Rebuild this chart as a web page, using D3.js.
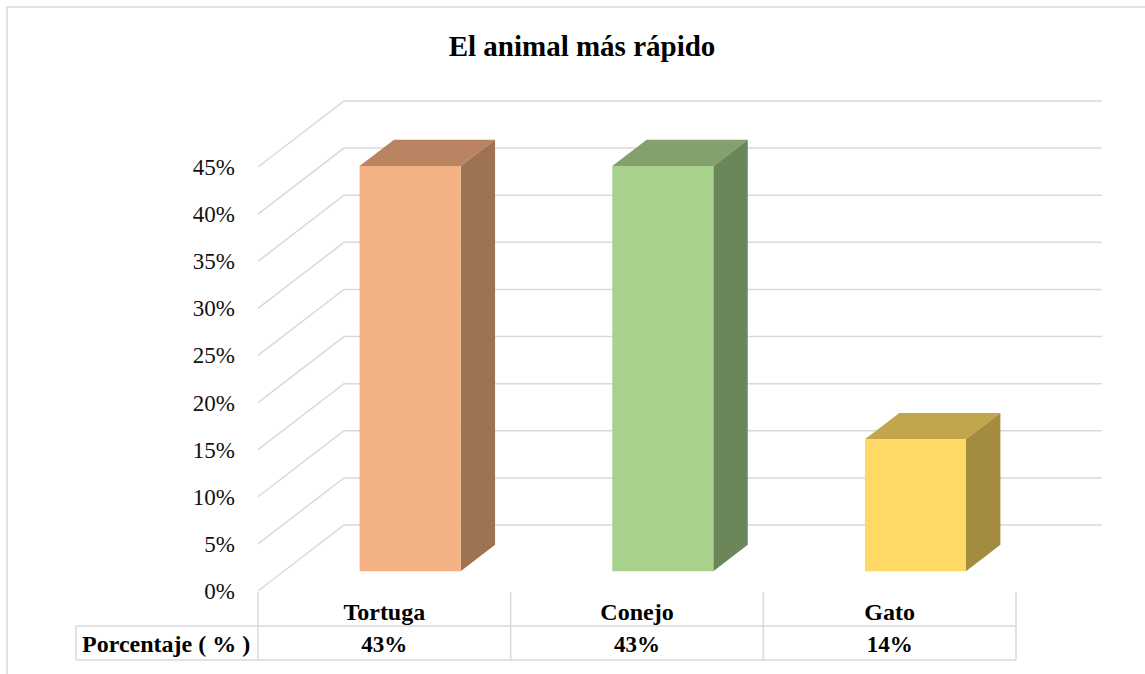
<!DOCTYPE html>
<html lang="es">
<head>
<meta charset="UTF-8">
<title>El animal más rápido</title>
<script src="https://d3js.org/d3.v7.min.js"></script>
<style>
    body { margin: 0; padding: 0; background: #fff; }
    svg { display: block; font-family: "Liberation Serif", "Times New Roman", serif; }
</style>
</head>
<body>
<svg width="1145" height="674"></svg>
<script>
    const width = 1145, height = 674;

    // datos
    const categories = ["Tortuga", "Conejo", "Gato"];
    const values = [0.43, 0.43, 0.14];
    const valueLabels = ["43%", "43%", "14%"];
    const tickValues = [0, 0.05, 0.10, 0.15, 0.20, 0.25, 0.30, 0.35, 0.40, 0.45];
    const tickLabels = ["0%", "5%", "10%", "15%", "20%", "25%", "30%", "35%", "40%", "45%"];
    const rowLabel = "Porcentaje ( % )";
    const title = "El animal más rápido";

    const frontColors = ["#F4B183", "#A9D18E", "#FFD966"];
    const topColors = ["#BA8462", "#84A06C", "#C2A64E"];
    const sideColors = ["#9E7352", "#6B8759", "#A38C3E"];

    const svg = d3.select("svg");
    const gridColor = "#d9d9d9";

    // profundidad 3D
    const depthX = 86, depthY = -66;
    const d0 = 0.3, d1 = 0.7;

    const x = d3.scaleBand()
        .domain(categories)
        .range([258, 1016])
        .paddingInner(0.6)
        .paddingOuter(0.3);

    const y = d3.scaleLinear()
        .domain([0, 0.45])
        .range([591, 167]);

    const cols = d3.scaleBand().domain(categories).range([258, 1016]);

    // borde exterior
    svg.append("path")
        .attr("d", `M7,${height} V7 H${width}`)
        .attr("fill", "none")
        .attr("stroke", gridColor)
        .attr("stroke-width", 1.5);

    // título
    svg.append("text")
        .attr("x", 582)
        .attr("y", 56)
        .attr("text-anchor", "middle")
        .style("font-weight", "bold")
        .style("font-size", "29px")
        .text(title);

    // líneas de la cuadrícula (pared del fondo y lateral)
    const grid = svg.append("g")
        .attr("stroke", gridColor)
        .attr("stroke-width", 1.5)
        .attr("fill", "none");

    grid.selectAll("path")
        .data(tickValues)
        .enter()
        .append("path")
        .attr("d", v => {
            const [x0, x1] = x.range();
            return `M${x0},${y(v)} L${x0 + depthX},${y(v) + depthY} H${x1 + depthX}`;
        });

    // etiquetas del eje
    svg.append("g")
        .selectAll("text")
        .data(tickValues)
        .enter()
        .append("text")
        .attr("x", 235)
        .attr("y", v => y(v))
        .attr("dy", "0.35em")
        .attr("text-anchor", "end")
        .style("font-size", "23px")
        .style("fill", "#111")
        .text((v, i) => tickLabels[i]);

    // barras 3D
    const bars = svg.append("g")
        .selectAll("g")
        .data(categories)
        .enter()
        .append("g");

    const pt = (px, py, d) => [px + depthX * d, py + depthY * d];

    bars.append("polygon")
        .attr("fill", (c, i) => topColors[i])
        .attr("points", (c, i) => {
            const l = x(c), r = x(c) + x.bandwidth(), t = y(values[i]);
            return [pt(l, t, d0), pt(r, t, d0), pt(r, t, d1), pt(l, t, d1)].join(" ");
        });

    bars.append("polygon")
        .attr("fill", (c, i) => sideColors[i])
        .attr("points", (c, i) => {
            const r = x(c) + x.bandwidth(), t = y(values[i]), b = y(0);
            return [pt(r, t, d0), pt(r, t, d1), pt(r, b, d1), pt(r, b, d0)].join(" ");
        });

    bars.append("polygon")
        .attr("fill", (c, i) => frontColors[i])
        .attr("points", (c, i) => {
            const l = x(c), r = x(c) + x.bandwidth(), t = y(values[i]), b = y(0);
            return [pt(l, t, d0), pt(r, t, d0), pt(r, b, d0), pt(l, b, d0)].join(" ");
        });

    // tabla de datos
    const table = svg.append("g")
        .attr("stroke", gridColor)
        .attr("stroke-width", 1.5)
        .attr("fill", "none");

    const rowTop = 592, rowMid = 626, rowBot = 660, tableLeft = 76;

    table.selectAll("line.v")
        .data(categories.map(c => cols(c)).concat([cols.range()[1]]))
        .enter()
        .append("line")
        .attr("x1", d => d).attr("x2", d => d)
        .attr("y1", rowTop).attr("y2", rowBot);

    table.append("line")
        .attr("x1", tableLeft).attr("x2", tableLeft)
        .attr("y1", rowMid).attr("y2", rowBot);
    table.append("line")
        .attr("x1", tableLeft).attr("x2", cols.range()[1])
        .attr("y1", rowMid).attr("y2", rowMid);
    table.append("line")
        .attr("x1", tableLeft).attr("x2", cols.range()[1])
        .attr("y1", rowBot).attr("y2", rowBot);

    const tableText = svg.append("g")
        .style("font-weight", "bold")
        .attr("text-anchor", "middle");

    tableText.selectAll("text.cat")
        .data(categories)
        .enter()
        .append("text")
        .attr("x", c => cols(c) + cols.bandwidth() / 2)
        .attr("y", 620)
        .style("font-size", "24px")
        .text(c => c);

    tableText.selectAll("text.val")
        .data(valueLabels)
        .enter()
        .append("text")
        .attr("x", (v, i) => cols(categories[i]) + cols.bandwidth() / 2)
        .attr("y", 652)
        .style("font-size", "23px")
        .text(v => v);

    svg.append("text")
        .attr("x", 82)
        .attr("y", 652)
        .style("font-weight", "bold")
        .style("font-size", "24px")
        .text(rowLabel);
</script>
</body>
</html>
